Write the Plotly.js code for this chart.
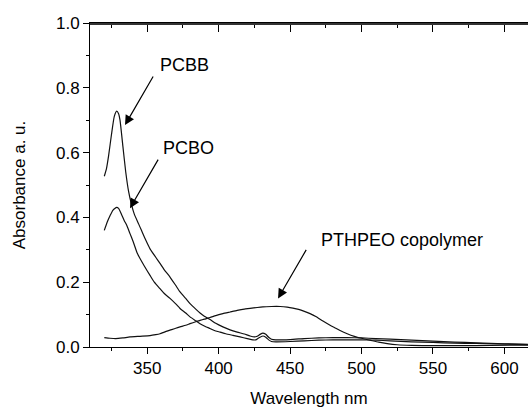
<!DOCTYPE html>
<html>
<head>
<meta charset="utf-8">
<script src="https://cdn.plot.ly/plotly-3.0.1.min.js"></script>
<style>
html, body { margin: 0; padding: 0; overflow: hidden; background: #fff; }
#chart { width: 528px; height: 409px; }
</style>
</head>
<body>
<div id="chart"></div>
<script>
// PCBB absorbance
var pcbbWavelength = [320, 321.5, 323, 325, 327, 328.7, 330, 331, 333, 335, 337, 339, 341, 344, 346, 349, 352, 356, 359, 362, 366, 370, 373, 377, 380, 384, 387, 390, 394, 398, 403, 408, 413, 418, 422, 425, 427, 429, 431, 433, 435, 437, 440, 450, 460, 470, 480, 490, 500, 510, 520, 535, 550, 565, 580, 600, 620];
var pcbbAbsorbance = [0.527, 0.55, 0.59, 0.655, 0.712, 0.728, 0.72, 0.70, 0.62, 0.54, 0.48, 0.44, 0.41, 0.38, 0.36, 0.33, 0.303, 0.277, 0.258, 0.238, 0.216, 0.19, 0.170, 0.15, 0.134, 0.117, 0.105, 0.095, 0.085, 0.073, 0.062, 0.053, 0.046, 0.040, 0.034, 0.031, 0.033, 0.039, 0.043, 0.039, 0.030, 0.024, 0.022, 0.023, 0.026, 0.028, 0.029, 0.029, 0.028, 0.026, 0.024, 0.021, 0.018, 0.015, 0.013, 0.010, 0.008];

// PCBO absorbance
var pcboWavelength = [320, 322, 324, 326, 328.7, 330, 332, 334, 335.7, 338, 340.3, 343, 345, 348, 352, 355, 359, 362, 366, 370, 373, 377, 380, 384, 387, 390, 394, 397, 401, 405, 410, 415, 420, 424, 426, 428, 431, 433, 435, 437, 440, 450, 460, 470, 480, 490, 500, 510, 520, 535, 550, 565, 580, 600, 620];
var pcboAbsorbance = [0.36, 0.385, 0.405, 0.422, 0.431, 0.428, 0.41, 0.39, 0.376, 0.35, 0.324, 0.29, 0.273, 0.25, 0.221, 0.20, 0.180, 0.165, 0.150, 0.133, 0.119, 0.105, 0.093, 0.081, 0.072, 0.065, 0.057, 0.051, 0.046, 0.041, 0.036, 0.031, 0.026, 0.022, 0.022, 0.028, 0.034, 0.030, 0.022, 0.017, 0.016, 0.017, 0.019, 0.021, 0.022, 0.022, 0.022, 0.021, 0.019, 0.016, 0.014, 0.012, 0.011, 0.009, 0.007];

// PTHPEO copolymer absorbance
var pthpeoWavelength = [320, 324, 328, 333, 338, 345, 352, 356, 359, 362, 366, 370, 373, 377, 380, 384, 387, 390, 394, 398, 403, 408, 413, 418, 422, 427, 431, 437, 443, 448, 452, 456, 460, 464, 468, 473, 478, 482, 485, 490, 495, 500, 506, 512, 518, 525, 535, 550, 570, 590, 620];
var pthpeoAbsorbance = [0.029, 0.027, 0.026, 0.028, 0.031, 0.033, 0.035, 0.038, 0.041, 0.046, 0.052, 0.058, 0.062, 0.067, 0.072, 0.078, 0.082, 0.086, 0.091, 0.097, 0.103, 0.108, 0.113, 0.117, 0.119, 0.122, 0.124, 0.125, 0.125, 0.123, 0.120, 0.116, 0.110, 0.103, 0.094, 0.080, 0.067, 0.058, 0.051, 0.041, 0.033, 0.027, 0.021, 0.015, 0.0105, 0.007, 0.005, 0.004, 0.004, 0.005, 0.006];

var xTickVals = [350, 400, 450, 500, 550, 600];
var yTickVals = [0.0, 0.2, 0.4, 0.6, 0.8, 1.0];
var xRange = [310, 616.5];
var yRange = [0, 1];

var labels = ['PCBB', 'PCBO', 'PTHPEO copolymer'];
var labelX = [375.8, 378.6, 528.4];
var labelY = [0.870, 0.614, 0.330];
var arrowTipX = [334.5, 338, 441.6];
var arrowTipY = [0.685, 0.4285, 0.150];

var FONT = 'Liberation Sans, Arial, sans-serif';
var lineStyle = {color: '#111', width: 1.2, shape: 'spline', smoothing: 0.5};

var traces = [
  {x: pcbbWavelength, y: pcbbAbsorbance, name: 'PCBB', mode: 'lines', line: lineStyle},
  {x: pcboWavelength, y: pcboAbsorbance, name: 'PCBO', mode: 'lines', line: lineStyle},
  {x: pthpeoWavelength, y: pthpeoAbsorbance, name: 'PTHPEO copolymer', mode: 'lines', line: lineStyle},
  {x: [], y: [], xaxis: 'x2', yaxis: 'y', mode: 'lines', hoverinfo: 'skip'}
];

var annotations = [];
for (var i = 0; i < labels.length; i++) {
  annotations.push({
    x: labelX[i], y: labelY[i], xref: 'x', yref: 'y', text: labels[i],
    showarrow: false, xanchor: 'center', yanchor: 'middle',
    font: {family: FONT, size: 18, color: '#000'}
  });
  annotations.push({
    x: arrowTipX[i], y: arrowTipY[i], xref: 'x', yref: 'y', text: '',
    showarrow: true, ax: 29, ay: -50, arrowhead: 2, arrowsize: 1.6,
    arrowwidth: 1.2, arrowcolor: '#000', standoff: 0, startstandoff: 0
  });
}

var axisCommon = {
  showgrid: false, zeroline: false, showline: true, linecolor: '#000', linewidth: 1,
  tickcolor: '#000', tickwidth: 1
};

var layout = {
  width: 528, height: 409,
  margin: {l: 90, r: 0, t: 23, b: 62},
  paper_bgcolor: '#fff', plot_bgcolor: '#fff',
  showlegend: false,
  font: {family: FONT, size: 17, color: '#000'},
  xaxis: Object.assign({}, axisCommon, {
    range: xRange, tickvals: xTickVals, ticks: 'outside', ticklen: 6, mirror: true,
    minor: {dtick: 25, tick0: 300, ticks: 'outside', ticklen: 3, tickcolor: '#000'},
    tickfont: {family: FONT, size: 17},
    title: {text: 'Wavelength nm', font: {family: FONT, size: 17}, standoff: 14}
  }),
  yaxis: Object.assign({}, axisCommon, {
    range: yRange, tickvals: yTickVals, tickformat: '.1f', ticks: 'outside', ticklen: 6,
    minor: {dtick: 0.1, tick0: 0, ticks: 'outside', ticklen: 3, tickcolor: '#000'},
    tickfont: {family: FONT, size: 17},
    title: {text: 'Absorbance a. u.', font: {family: FONT, size: 17}, standoff: 26}
  }),
  // top axis: a bottom-side axis placed at the top edge so its "outside" ticks point down into the plot
  xaxis2: Object.assign({}, axisCommon, {
    overlaying: 'x', side: 'bottom', anchor: 'free', position: 1,
    range: xRange, tickvals: xTickVals,
    linecolor: '#333', linewidth: 1.6,
    ticks: 'outside', ticklen: 7, showticklabels: false,
    minor: {dtick: 25, tick0: 300, ticks: 'outside', ticklen: 3, tickcolor: '#000'}
  }),
  annotations: annotations
};

Plotly.newPlot('chart', traces, layout, {displayModeBar: false, staticPlot: true});
</script>
</body>
</html>
